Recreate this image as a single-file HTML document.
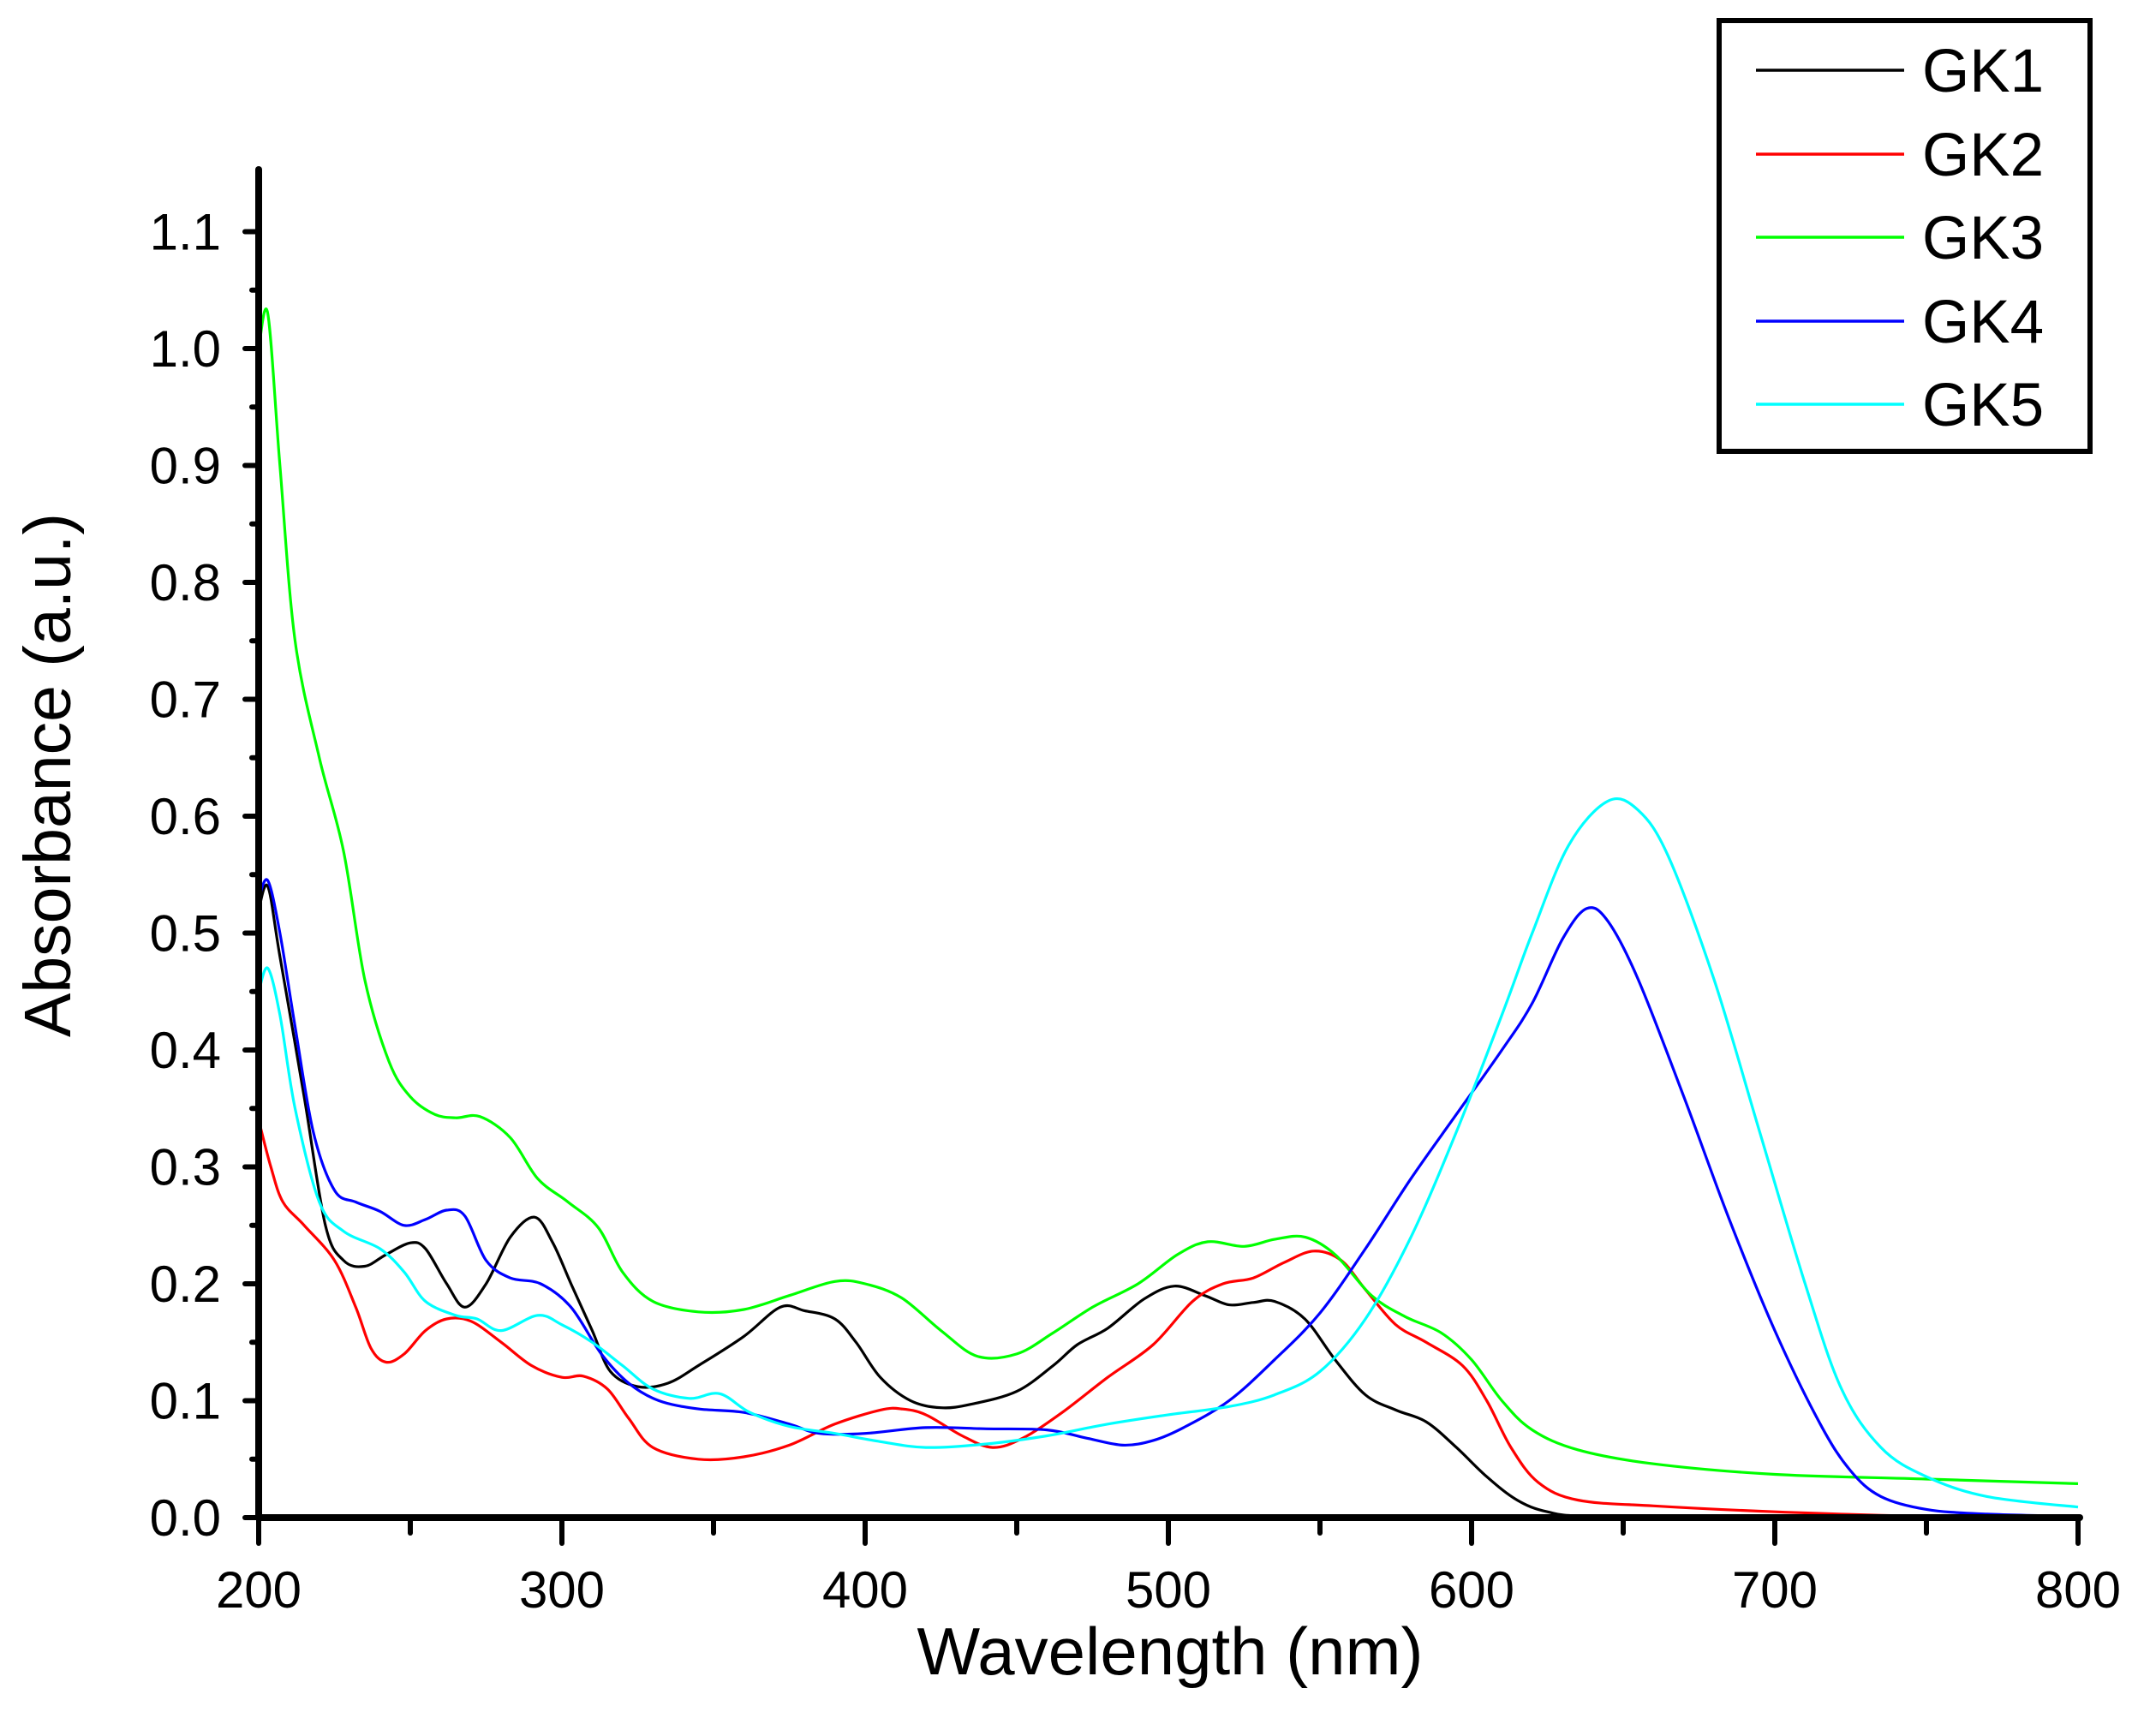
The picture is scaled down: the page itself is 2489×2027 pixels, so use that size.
<!DOCTYPE html>
<html><head><meta charset="utf-8"><style>
html,body{margin:0;padding:0;background:#fff}
svg{display:block}
text{font-family:"Liberation Sans",Arial,sans-serif;fill:#000}
</style></head><body>
<svg id="s" width="2489" height="2027" viewBox="0 0 2489 2027" xmlns="http://www.w3.org/2000/svg">
<g id="curves" fill="none" stroke-width="3.2" stroke-linejoin="round"></g>
<g id="axes" stroke="#000" stroke-linecap="round"></g>
<g id="labels" font-size="60"></g>
<text x="1366" y="1955" font-size="78" text-anchor="middle">Wavelength (nm)</text>
<text transform="translate(82,905) rotate(-90)" font-size="77" text-anchor="middle">Absorbance (a.u.)</text>
<rect x="2007" y="24" width="433" height="503" fill="none" stroke="#000" stroke-width="6"/>
<g stroke-width="3.5">
<line x1="2050" y1="82" x2="2223" y2="82" stroke="#000"/>
<line x1="2050" y1="180" x2="2223" y2="180" stroke="#f00"/>
<line x1="2050" y1="277" x2="2223" y2="277" stroke="#0f0"/>
<line x1="2050" y1="375" x2="2223" y2="375" stroke="#00f"/>
<line x1="2050" y1="472" x2="2223" y2="472" stroke="#0ff"/>
</g>
<g font-size="71">
<text x="2244" y="107">GK1</text>
<text x="2244" y="205">GK2</text>
<text x="2244" y="302">GK3</text>
<text x="2244" y="400">GK4</text>
<text x="2244" y="497">GK5</text>
</g>
</svg>
<script>
var X=function(v){return 302+(v-200)*(2124/600);};
var Y=function(a){return 1772-a*1365;};
var ns="http://www.w3.org/2000/svg";
function el(p,t,at){var e=document.createElementNS(ns,t);for(var k in at)e.setAttribute(k,at[k]);p.appendChild(e);return e;}
var ax=document.getElementById('axes'),lb=document.getElementById('labels');
el(ax,'line',{x1:302,y1:198,x2:302,y2:1772,'stroke-width':8});
el(ax,'line',{x1:302,y1:1772,x2:2428,y2:1772,'stroke-width':8});
for(var i=0;i<=22;i++){var y=Y(i*0.05);var major=i%2==0;
 el(ax,'line',{x1:major?286:294,y1:y,x2:302,y2:y,'stroke-width':6});
 if(major){var t=el(lb,'text',{x:258,y:y+21,'text-anchor':'end'});t.textContent=(i*0.05).toFixed(1);}}
for(var w=200;w<=800;w+=50){var x=X(w);var major=w%100==0;
 el(ax,'line',{x1:x,y1:1772,x2:x,y2:major?1802:1790,'stroke-width':6});
 if(major){var t=el(lb,'text',{x:x,y:1877,'text-anchor':'middle'});t.textContent=w;}}
var D={
'#000':[200,0.52,203,0.54,207,0.48,215,0.36,222,0.25,228,0.22,235,0.215,242,0.225,250,0.235,255,0.23,262,0.2,268,0.18,275,0.2,283,0.24,291,0.257,297,0.235,303,0.2,310,0.16,316,0.125,325,0.112,335,0.115,345,0.13,360,0.155,372,0.18,380,0.177,390,0.17,397,0.15,405,0.12,415,0.1,425,0.094,435,0.097,450,0.108,462,0.13,470,0.148,480,0.162,492,0.187,502,0.198,512,0.19,520,0.182,528,0.184,535,0.185,545,0.17,555,0.135,565,0.105,575,0.092,585,0.082,595,0.06,605,0.035,615,0.015,625,0.005,640,0.001,700,0,800,0],
'#f00':[200,0.34,204,0.3,208,0.27,215,0.25,225,0.22,232,0.18,237,0.145,242,0.133,248,0.14,255,0.16,262,0.17,270,0.168,280,0.15,290,0.13,300,0.12,307,0.121,315,0.11,322,0.085,330,0.06,345,0.05,360,0.052,375,0.062,390,0.08,405,0.092,412,0.093,420,0.088,432,0.07,442,0.06,452,0.068,465,0.09,480,0.12,495,0.148,508,0.185,518,0.2,528,0.205,538,0.218,548,0.228,557,0.22,565,0.195,575,0.165,585,0.15,597,0.13,605,0.1,613,0.06,622,0.03,635,0.015,660,0.01,700,0.005,750,0.001,800,0],
'#0f0':[200,1.0,203,1.03,207,0.9,212,0.75,220,0.65,228,0.57,235,0.46,243,0.39,250,0.36,258,0.345,265,0.342,273,0.343,283,0.325,292,0.29,302,0.27,312,0.248,320,0.21,330,0.185,345,0.176,360,0.178,375,0.19,390,0.202,400,0.2,412,0.188,425,0.16,437,0.138,450,0.14,462,0.158,475,0.18,490,0.2,503,0.225,513,0.236,525,0.232,535,0.238,545,0.24,555,0.225,567,0.19,578,0.172,590,0.158,600,0.135,610,0.1,620,0.075,635,0.058,660,0.046,700,0.037,750,0.033,800,0.029],
'#00f':[200,0.53,203,0.545,207,0.5,212,0.42,218,0.33,225,0.28,232,0.27,240,0.262,248,0.25,255,0.255,262,0.263,268,0.258,275,0.22,283,0.205,293,0.2,303,0.18,313,0.14,322,0.115,332,0.1,345,0.093,360,0.09,375,0.08,385,0.072,400,0.072,420,0.077,440,0.076,460,0.075,473,0.068,485,0.062,495,0.066,505,0.077,520,0.1,535,0.135,550,0.175,565,0.23,580,0.29,595,0.345,610,0.4,620,0.44,630,0.495,638,0.521,645,0.51,655,0.46,670,0.36,685,0.255,700,0.16,715,0.08,725,0.04,735,0.018,750,0.007,770,0.003,800,0.001],
'#0ff':[200,0.45,203,0.47,207,0.43,212,0.35,220,0.27,228,0.245,240,0.23,248,0.21,255,0.185,265,0.173,272,0.17,280,0.16,292,0.173,300,0.165,310,0.15,320,0.13,330,0.11,342,0.102,352,0.106,362,0.09,375,0.078,390,0.072,405,0.065,420,0.06,440,0.063,460,0.07,480,0.08,500,0.088,520,0.095,535,0.105,550,0.125,565,0.17,580,0.24,595,0.33,610,0.43,620,0.5,632,0.575,645,0.613,655,0.605,665,0.565,680,0.46,695,0.33,710,0.2,722,0.11,735,0.06,750,0.035,770,0.018,800,0.009]};
var cg=document.getElementById('curves');
for(var c in D){var a=D[c],p=[];for(var i=0;i<a.length;i+=2)p.push([X(a[i]),Y(a[i+1])]);
 var d='M'+p[0][0].toFixed(1)+','+p[0][1].toFixed(1);
 for(var i=0;i<p.length-1;i++){var p0=p[Math.max(i-1,0)],p1=p[i],p2=p[i+1],p3=p[Math.min(i+2,p.length-1)];
  var c1=[p1[0]+(p2[0]-p0[0])/6,p1[1]+(p2[1]-p0[1])/6],c2=[p2[0]-(p3[0]-p1[0])/6,p2[1]-(p3[1]-p1[1])/6];
  d+='C'+c1[0].toFixed(1)+','+c1[1].toFixed(1)+' '+c2[0].toFixed(1)+','+c2[1].toFixed(1)+' '+p2[0].toFixed(1)+','+p2[1].toFixed(1);}
 el(cg,'path',{d:d,stroke:c});}
</script>
</body></html>
